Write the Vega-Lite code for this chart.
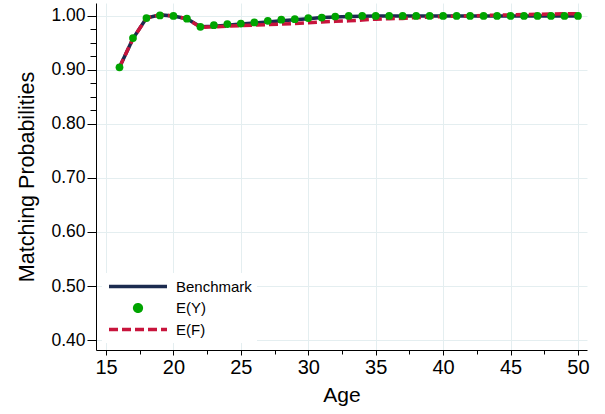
{
  "$schema": "https://vega.github.io/schema/vega-lite/v6.json",
  "width": 491,
  "height": 347,
  "autosize": {"type": "none"},
  "padding": {"left": 96, "top": 3, "right": 18, "bottom": 64},
  "background": "white",
  "config": {
    "view": {"stroke": null},
    "font": "Liberation Sans",
    "axis": {
      "domainColor": "black",
      "tickColor": "black",
      "labelColor": "black",
      "titleColor": "black",
      "labelFont": "Liberation Sans",
      "titleFont": "Liberation Sans",
      "titleFontWeight": "normal",
      "gridColor": "#e4eef0",
      "gridWidth": 1
    }
  },
  "data": {
    "values": [
      {"series": "Benchmark", "age": 16, "value": 0.905},
      {"series": "Benchmark", "age": 17, "value": 0.958},
      {"series": "Benchmark", "age": 18, "value": 0.996},
      {"series": "Benchmark", "age": 19, "value": 1.002},
      {"series": "Benchmark", "age": 20, "value": 1.0},
      {"series": "Benchmark", "age": 21, "value": 0.995},
      {"series": "Benchmark", "age": 22, "value": 0.98},
      {"series": "Benchmark", "age": 23, "value": 0.981},
      {"series": "Benchmark", "age": 24, "value": 0.983},
      {"series": "Benchmark", "age": 25, "value": 0.985},
      {"series": "Benchmark", "age": 26, "value": 0.987},
      {"series": "Benchmark", "age": 27, "value": 0.989},
      {"series": "Benchmark", "age": 28, "value": 0.991},
      {"series": "Benchmark", "age": 29, "value": 0.993},
      {"series": "Benchmark", "age": 30, "value": 0.995},
      {"series": "Benchmark", "age": 31, "value": 0.997},
      {"series": "Benchmark", "age": 32, "value": 0.998},
      {"series": "Benchmark", "age": 33, "value": 0.999},
      {"series": "Benchmark", "age": 34, "value": 0.9995},
      {"series": "Benchmark", "age": 35, "value": 1.0},
      {"series": "Benchmark", "age": 36, "value": 1.0},
      {"series": "Benchmark", "age": 37, "value": 1.0},
      {"series": "Benchmark", "age": 38, "value": 1.0},
      {"series": "Benchmark", "age": 39, "value": 1.0},
      {"series": "Benchmark", "age": 40, "value": 1.0},
      {"series": "Benchmark", "age": 41, "value": 1.0},
      {"series": "Benchmark", "age": 42, "value": 1.0},
      {"series": "Benchmark", "age": 43, "value": 1.0},
      {"series": "Benchmark", "age": 44, "value": 1.0},
      {"series": "Benchmark", "age": 45, "value": 1.0},
      {"series": "Benchmark", "age": 46, "value": 1.0},
      {"series": "Benchmark", "age": 47, "value": 1.0},
      {"series": "Benchmark", "age": 48, "value": 1.0},
      {"series": "Benchmark", "age": 49, "value": 1.0},
      {"series": "Benchmark", "age": 50, "value": 1.0},
      {"series": "E(Y)", "age": 16, "value": 0.905},
      {"series": "E(Y)", "age": 17, "value": 0.959},
      {"series": "E(Y)", "age": 18, "value": 0.996},
      {"series": "E(Y)", "age": 19, "value": 1.001},
      {"series": "E(Y)", "age": 20, "value": 1.0},
      {"series": "E(Y)", "age": 21, "value": 0.995},
      {"series": "E(Y)", "age": 22, "value": 0.98},
      {"series": "E(Y)", "age": 23, "value": 0.983},
      {"series": "E(Y)", "age": 24, "value": 0.985},
      {"series": "E(Y)", "age": 25, "value": 0.986},
      {"series": "E(Y)", "age": 26, "value": 0.988},
      {"series": "E(Y)", "age": 27, "value": 0.991},
      {"series": "E(Y)", "age": 28, "value": 0.993},
      {"series": "E(Y)", "age": 29, "value": 0.994},
      {"series": "E(Y)", "age": 30, "value": 0.996},
      {"series": "E(Y)", "age": 31, "value": 0.997},
      {"series": "E(Y)", "age": 32, "value": 0.999},
      {"series": "E(Y)", "age": 33, "value": 1.0},
      {"series": "E(Y)", "age": 34, "value": 1.0},
      {"series": "E(Y)", "age": 35, "value": 1.0},
      {"series": "E(Y)", "age": 36, "value": 1.0},
      {"series": "E(Y)", "age": 37, "value": 1.0},
      {"series": "E(Y)", "age": 38, "value": 1.0},
      {"series": "E(Y)", "age": 39, "value": 1.0},
      {"series": "E(Y)", "age": 40, "value": 1.0},
      {"series": "E(Y)", "age": 41, "value": 1.0},
      {"series": "E(Y)", "age": 42, "value": 1.0},
      {"series": "E(Y)", "age": 43, "value": 1.0},
      {"series": "E(Y)", "age": 44, "value": 1.0},
      {"series": "E(Y)", "age": 45, "value": 1.0},
      {"series": "E(Y)", "age": 46, "value": 1.0},
      {"series": "E(Y)", "age": 47, "value": 1.0},
      {"series": "E(Y)", "age": 48, "value": 1.0},
      {"series": "E(Y)", "age": 49, "value": 1.0},
      {"series": "E(Y)", "age": 50, "value": 1.0},
      {"series": "E(F)", "age": 16, "value": 0.905},
      {"series": "E(F)", "age": 17, "value": 0.958},
      {"series": "E(F)", "age": 18, "value": 0.996},
      {"series": "E(F)", "age": 19, "value": 1.002},
      {"series": "E(F)", "age": 20, "value": 1.0},
      {"series": "E(F)", "age": 21, "value": 0.995},
      {"series": "E(F)", "age": 22, "value": 0.979},
      {"series": "E(F)", "age": 23, "value": 0.98},
      {"series": "E(F)", "age": 24, "value": 0.981},
      {"series": "E(F)", "age": 25, "value": 0.982},
      {"series": "E(F)", "age": 26, "value": 0.983},
      {"series": "E(F)", "age": 27, "value": 0.984},
      {"series": "E(F)", "age": 28, "value": 0.985},
      {"series": "E(F)", "age": 29, "value": 0.986},
      {"series": "E(F)", "age": 30, "value": 0.9875},
      {"series": "E(F)", "age": 31, "value": 0.989},
      {"series": "E(F)", "age": 32, "value": 0.99},
      {"series": "E(F)", "age": 33, "value": 0.991},
      {"series": "E(F)", "age": 34, "value": 0.9925},
      {"series": "E(F)", "age": 35, "value": 0.994},
      {"series": "E(F)", "age": 36, "value": 0.995},
      {"series": "E(F)", "age": 37, "value": 0.9955},
      {"series": "E(F)", "age": 38, "value": 0.997},
      {"series": "E(F)", "age": 39, "value": 0.998},
      {"series": "E(F)", "age": 40, "value": 0.999},
      {"series": "E(F)", "age": 41, "value": 0.9995},
      {"series": "E(F)", "age": 42, "value": 1.0},
      {"series": "E(F)", "age": 43, "value": 1.001},
      {"series": "E(F)", "age": 44, "value": 1.0015},
      {"series": "E(F)", "age": 45, "value": 1.002},
      {"series": "E(F)", "age": 46, "value": 1.0025},
      {"series": "E(F)", "age": 47, "value": 1.003},
      {"series": "E(F)", "age": 48, "value": 1.0035},
      {"series": "E(F)", "age": 49, "value": 1.004},
      {"series": "E(F)", "age": 50, "value": 1.004}
    ]
  },
  "resolve": {"axis": {"x": "independent", "y": "independent"}},
  "layer": [
    {
      "transform": [{"filter": "datum.series === 'Benchmark'"}],
      "mark": {"type": "line", "strokeWidth": 3.5},
      "encoding": {
        "x": {
          "field": "age", "type": "quantitative",
          "scale": {"domain": [14.258, 50.67], "nice": false, "zero": false},
          "axis": {
            "title": "Age", "values": [15, 20, 25, 30, 35, 40, 45, 50],
            "labelFontSize": 20, "titleFontSize": 21, "tickSize": 5,
            "labelPadding": 2, "titlePadding": 7, "grid": true, "labelFlush": false
          }
        },
        "y": {
          "field": "value", "type": "quantitative",
          "scale": {"domain": [0.3815, 1.024], "nice": false, "zero": false},
          "axis": {
            "title": "Matching Probabilities", "values": [0.4, 0.5, 0.6, 0.7, 0.8, 0.9, 1.0],
            "format": ".2f", "labelFontSize": 17.5, "titleFontSize": 21.5, "tickSize": 9,
            "labelPadding": 2, "titlePadding": 12, "grid": true
          }
        },
        "color": {
          "field": "series", "type": "nominal",
          "scale": {"domain": ["Benchmark", "E(Y)", "E(F)"], "range": ["#1c2b4f", "#00a400", "#c8143c"]},
          "legend": {
            "title": null, "orient": "none", "legendX": 6, "legendY": 270,
            "fillColor": "white", "padding": 5, "labelFontSize": 15, "labelColor": "black",
            "labelFont": "Liberation Sans", "labelOffset": 7, "rowPadding": 4.5, "clipHeight": 17,
            "symbolType": "stroke", "symbolSize": 3364, "symbolStrokeWidth": 3.5,
            "encode": {
              "symbols": {
                "update": {
                  "shape": {"signal": "datum.value === 'E(Y)' ? 'circle' : 'stroke'"},
                  "size": {"signal": "datum.value === 'E(Y)' ? 45 : 3364"},
                  "strokeDash": {"signal": "datum.value === 'E(F)' ? [9, 4] : [1, 0]"},
                  "fill": {"signal": "datum.value === 'E(Y)' ? '#00a400' : 'transparent'"},
                  "stroke": {"signal": "datum.value === 'E(Y)' ? 'transparent' : (datum.value === 'E(F)' ? '#c8143c' : '#1c2b4f')"},
                  "strokeWidth": {"value": 3.5},
                  "opacity": {"value": 1}
                }
              }
            }
          }
        }
      }
    },
    {
      "transform": [{"filter": "datum.series === 'E(F)'"}],
      "mark": {"type": "line", "strokeWidth": 3.5, "strokeDash": [9, 4]},
      "encoding": {
        "x": {"field": "age", "type": "quantitative", "axis": null},
        "y": {"field": "value", "type": "quantitative", "axis": null},
        "color": {"field": "series", "type": "nominal"}
      }
    },
    {
      "transform": [{"filter": "datum.series === 'E(Y)'"}],
      "mark": {"type": "point", "filled": true, "size": 60, "opacity": 1},
      "encoding": {
        "x": {"field": "age", "type": "quantitative", "axis": null},
        "y": {"field": "value", "type": "quantitative", "axis": null},
        "color": {"field": "series", "type": "nominal"}
      }
    },
    {
      "transform": [{"filter": "datum.series === 'E(Y)'"}],
      "mark": {"type": "point", "opacity": 0},
      "encoding": {
        "x": {
          "field": "age", "type": "quantitative",
          "axis": {"title": null, "values": [17.5, 22.5, 27.5, 32.5, 37.5, 42.5, 47.5], "labels": false, "grid": false, "domain": false, "tickSize": 4, "orient": "bottom"}
        },
        "y": {
          "field": "value", "type": "quantitative",
          "axis": {"title": null, "values": [0.825, 0.85, 0.875, 0.925, 0.95, 0.975], "labels": false, "grid": false, "domain": false, "tickSize": 6, "orient": "left"}
        }
      }
    }
  ]
}
